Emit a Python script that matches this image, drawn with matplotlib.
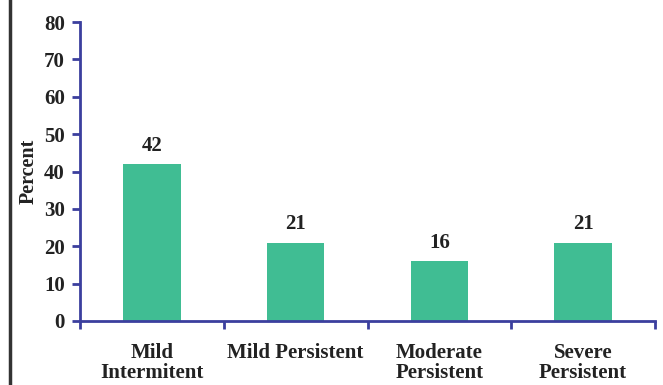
import numpy as np
import matplotlib.pyplot as plt
from matplotlib.lines import Line2D

# Data
categories = ['Mild\nIntermitent', 'Mild Persistent', 'Moderate\nPersistent', 'Severe\nPersistent']
percent = [42, 21, 16, 21]
labels = ['42', '21', '16', '21']

plt.rcParams['font.family'] = ['Liberation Serif', 'DejaVu Serif']
plt.rcParams['font.weight'] = 'bold'

axis_color = '#3B3F9E'
bar_color = '#40BD93'
text_color = '#222222'

fig = plt.figure(figsize=(6.63, 3.85), dpi=100)
ax = fig.add_axes([80 / 663, 64 / 385, 575 / 663, 299 / 385])

x = np.arange(len(categories))
ax.bar(x, percent, width=0.4, color=bar_color, zorder=2)
for xi, v, t in zip(x, percent, labels):
    ax.text(xi, v + 2.2, t, ha='center', va='bottom', fontsize=15, fontweight='bold', color=text_color)

ax.set_xlim(-0.5, len(categories) - 0.5)
ax.set_ylim(0, 80)
ax.set_yticks(range(0, 81, 10))
ax.set_xticks(x)
ax.set_xticklabels(categories, fontsize=15, fontweight='bold', color=text_color, linespacing=1.0)
ax.set_xticks(np.arange(-0.5, len(categories)), minor=True)
ax.tick_params(axis='x', which='major', length=0, pad=16)
ax.tick_params(axis='x', which='minor', length=6, width=2, color=axis_color, direction='out')
ax.tick_params(axis='y', length=6, width=2, color=axis_color, direction='out', labelsize=15, labelcolor=text_color, pad=5)
for t in ax.get_yticklabels():
    t.set_fontweight('bold')

for s in ['top', 'right']:
    ax.spines[s].set_visible(False)
for s in ['left', 'bottom']:
    ax.spines[s].set_color(axis_color)
    ax.spines[s].set_linewidth(2)

ax.set_ylabel('Percent', fontsize=14.5, fontweight='bold', color=text_color, labelpad=4)

# vertical rule at the left edge
fig.add_artist(Line2D([10 / 663, 10 / 663], [0, 1], color='#333333', linewidth=2.5))

fig.savefig('out.png', dpi=100)
